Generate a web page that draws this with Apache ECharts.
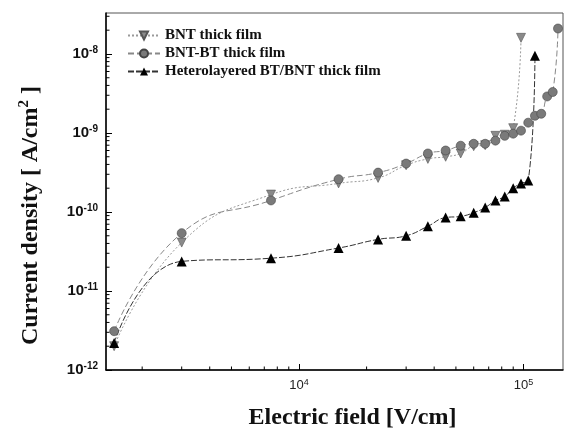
<!DOCTYPE html>
<html>
<head>
<meta charset="utf-8">
<script src="https://cdn.jsdelivr.net/npm/echarts@6/dist/echarts.min.js"></script>
<style>html,body{margin:0;padding:0;background:#fff}#c{width:566px;height:428px}</style>
</head>
<body>
<div id="c"></div>
<script>
// Electric field (V/cm)
const fieldBNT = [1500, 3000, 7500, 15000, 22500, 30000, 37500, 45000, 52500, 60000, 67500, 75000, 82500, 90000, 97500];
const fieldBNTBT = [1500, 3000, 7500, 15000, 22500, 30000, 37500, 45000, 52500, 60000, 67500, 75000, 82500, 90000, 97500, 105000, 112500, 120000, 127500, 135000, 142500];
const fieldHetero = [1500, 3000, 7500, 15000, 22500, 30000, 37500, 45000, 52500, 60000, 67500, 75000, 82500, 90000, 97500, 105000, 112500];
// Current density (A/cm^2)
const jBNT = [2.0e-12, 4.1e-11, 1.66e-10, 2.3e-10, 2.7e-10, 3.9e-10, 4.7e-10, 5.0e-10, 5.5e-10, 6.8e-10, 7.0e-10, 9.2e-10, 9.5e-10, 1.15e-9, 1.6e-8];
const jBNTBT = [3.1e-12, 5.4e-11, 1.4e-10, 2.6e-10, 3.15e-10, 4.1e-10, 5.5e-10, 6.0e-10, 6.9e-10, 7.3e-10, 7.3e-10, 8.0e-10, 9.2e-10, 9.8e-10, 1.07e-9, 1.35e-9, 1.65e-9, 1.75e-9, 2.9e-9, 3.3e-9, 2.1e-8];
const jHetero = [2.2e-12, 2.37e-11, 2.6e-11, 3.5e-11, 4.5e-11, 5.0e-11, 6.6e-11, 8.5e-11, 8.8e-11, 9.8e-11, 1.14e-10, 1.4e-10, 1.57e-10, 2.0e-10, 2.3e-10, 2.5e-10, 9.5e-9];
const seriesNames = ['BNT thick film', 'BNT-BT thick film', 'Heterolayered BT/BNT thick film'];
// axis ranges and minor tick values
const xMin = 1380, xMax = 150000, yMin = 1e-12, yMax = 3.3e-8;
const xMinorTicks = [2000, 3000, 4000, 5000, 6000, 7000, 8000, 9000, 20000, 30000, 40000, 50000, 60000, 70000, 80000, 90000];
const yMinorTicks = [2e-12,3e-12,4e-12,5e-12,6e-12,7e-12,8e-12,9e-12,2e-11,3e-11,4e-11,5e-11,6e-11,7e-11,8e-11,9e-11,2e-10,3e-10,4e-10,5e-10,6e-10,7e-10,8e-10,9e-10,2e-9,3e-9,4e-9,5e-9,6e-9,7e-9,8e-9,9e-9,2e-8,3e-8];

const zip = (a, b) => a.map((v, i) => [v, b[i]]);
function powLabel(v) {
  const e = Math.log10(v);
  const r = Math.round(e);
  if (Math.abs(e - r) < 1e-6) return '10{s|' + r + '}';
  return '';
}
const serif = '"Liberation Serif","Times New Roman",serif';
const sans = '"Liberation Sans",Arial,sans-serif';

const chart = echarts.init(document.getElementById('c'), null, {renderer: 'canvas'});
chart.setOption({
  animation: false,
  backgroundColor: '#fff',
  grid: {left: 106, right: 3, top: 13, bottom: 58, show: true, borderColor: '#555', borderWidth: 1,
         containLabel: false, outerBoundsMode: 'none'},
  legend: {
    data: seriesNames,
    orient: 'vertical', left: 122, top: 23,
    itemWidth: 32, itemHeight: 10, itemGap: 3,
    textStyle: {fontFamily: serif, fontWeight: 'bold', fontSize: 15, color: '#111'}
  },
  xAxis: {
    type: 'log', logBase: 10, min: xMin, max: xMax,
    name: 'Electric field [V/cm]', nameLocation: 'middle', nameGap: 36,
    nameTextStyle: {fontFamily: serif, fontWeight: 'bold', fontSize: 24, color: '#111', padding: [0, 0, 0, 36]},
    axisLine: {lineStyle: {color: '#000', width: 1.5}},
    axisTick: {inside: true, length: 6, lineStyle: {color: '#000'}},
    splitLine: {show: false},
    axisLabel: {
      formatter: powLabel, margin: 8, showMinLabel: false, showMaxLabel: false,
      color: '#222',
      rich: {s: {fontSize: 9, fontFamily: sans, verticalAlign: 'top', padding: [0,0,6,0], color: '#222'}},
      fontFamily: sans, fontSize: 13
    }
  },
  yAxis: {
    type: 'log', logBase: 10, min: yMin, max: yMax,
    name: 'Current density [ A/cm{s|2} ]', nameLocation: 'middle', nameGap: 62, nameRotate: 90,
    nameTextStyle: {fontFamily: serif, fontWeight: 'bold', fontSize: 24, color: '#111', padding: [0, 48, 0, 0],
      rich: {s: {fontFamily: serif, fontWeight: 'bold', fontSize: 15, color: '#111', padding: [0,0,12,0]}}},
    axisLine: {lineStyle: {color: '#000', width: 1.5}},
    axisTick: {inside: true, length: 6, lineStyle: {color: '#000'}},
    splitLine: {show: false},
    axisLabel: {
      formatter: powLabel, margin: 8, showMaxLabel: false,
      color: '#111', fontFamily: sans, fontWeight: 'bold', fontSize: 15,
      rich: {s: {fontSize: 10, fontFamily: sans, fontWeight: 'bold', color: '#111', padding: [0,0,8,0]}}
    }
  },
  series: [
    {
      name: seriesNames[0], type: 'line', data: zip(fieldBNT, jBNT),
      smooth: 0.5,
      symbol: 'triangle', symbolRotate: 180, symbolSize: 9,
      itemStyle: {color: '#8a8a8a', borderColor: '#555', borderWidth: 0.6},
      lineStyle: {color: '#9a9a9a', width: 1, type: [2, 2]}
    },
    {
      name: seriesNames[1], type: 'line', data: zip(fieldBNTBT, jBNTBT),
      smooth: 0.5,
      symbol: 'circle', symbolSize: 9,
      itemStyle: {color: '#7a7a7a', borderColor: '#444', borderWidth: 0.6},
      lineStyle: {color: '#888', width: 1, type: [6, 3]}
    },
    {
      name: seriesNames[2], type: 'line', data: zip(fieldHetero, jHetero),
      smooth: 0.5,
      symbol: 'triangle', symbolSize: 10,
      itemStyle: {color: '#000'},
      lineStyle: {color: '#333', width: 1, type: [6, 2]}
    },
    {
      type: 'custom', silent: true, clip: false, z: 1,
      data: xMinorTicks.map(v => [v, yMin]),
      renderItem: function (params, api) {
        const p = api.coord([api.value(0), api.value(1)]);
        return {type: 'line', shape: {x1: p[0], y1: p[1], x2: p[0], y2: p[1] - 3.5}, style: {stroke: '#000', lineWidth: 1}};
      }
    },
    {
      type: 'custom', silent: true, clip: false, z: 1,
      data: yMinorTicks.map(v => [xMin, v]),
      renderItem: function (params, api) {
        const p = api.coord([api.value(0), api.value(1)]);
        return {type: 'line', shape: {x1: p[0], y1: p[1], x2: p[0] + 3.5, y2: p[1]}, style: {stroke: '#000', lineWidth: 1}};
      }
    }
  ]
});
</script>
</body>
</html>
